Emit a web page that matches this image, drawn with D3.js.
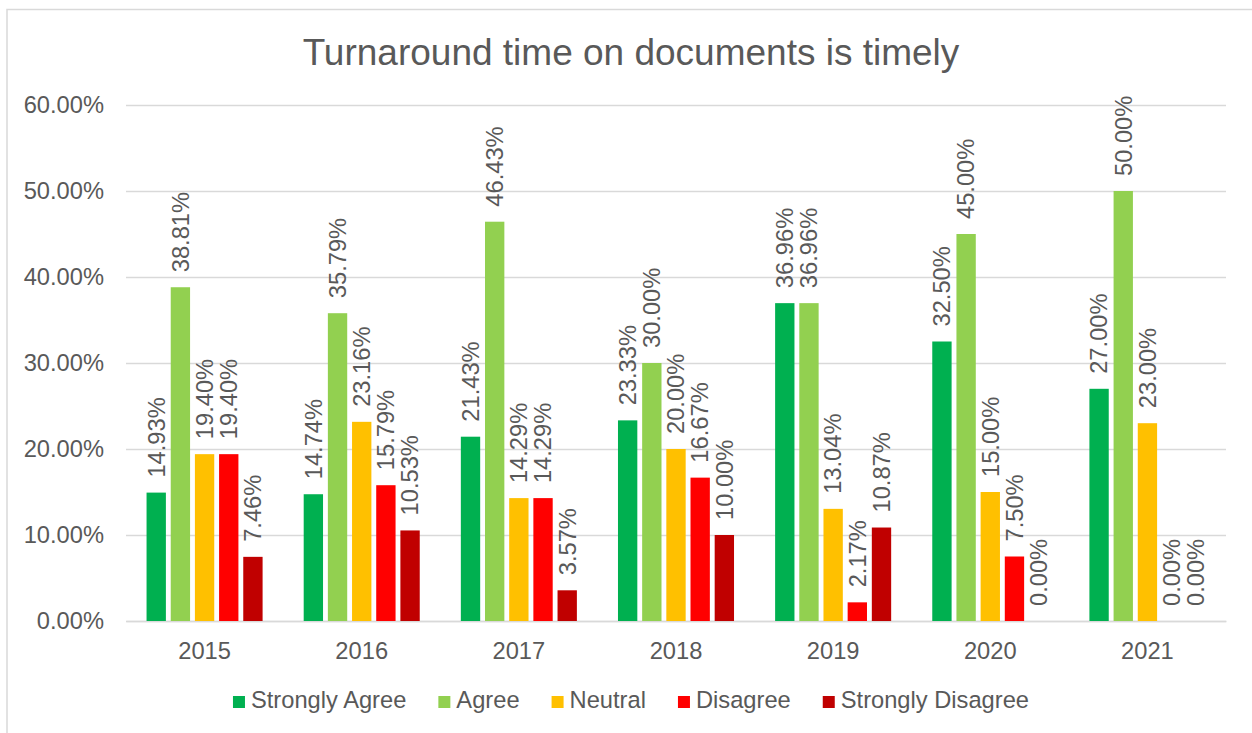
<!DOCTYPE html>
<html>
<head>
<meta charset="utf-8">
<script src="https://cdn.jsdelivr.net/npm/d3@7"></script>
<style>
  html, body { margin: 0; padding: 0; background: #fff; }
  svg { display: block; font-family: "Liberation Sans", Arial, sans-serif; }
</style>
</head>
<body>
<svg id="chart" width="1252" height="733"></svg>
<script>
const title = "Turnaround time on documents is timely";
const years = ["2015", "2016", "2017", "2018", "2019", "2020", "2021"];
const seriesNames = ["Strongly Agree", "Agree", "Neutral", "Disagree", "Strongly Disagree"];
const seriesColors = ["#00B050", "#92D050", "#FFC000", "#FF0000", "#C00000"];
const stronglyAgree = [14.93, 14.74, 21.43, 23.33, 36.96, 32.50, 27.00];
const agree = [38.81, 35.79, 46.43, 30.00, 36.96, 45.00, 50.00];
const neutral = [19.40, 23.16, 14.29, 20.00, 13.04, 15.00, 23.00];
const disagree = [19.40, 15.79, 14.29, 16.67, 2.17, 7.50, 0.00];
const stronglyDisagree = [7.46, 10.53, 3.57, 10.00, 10.87, 0.00, 0.00];
const yTicks = [0, 10, 20, 30, 40, 50, 60];

const seriesValues = [stronglyAgree, agree, neutral, disagree, stronglyDisagree];
const textColor = "#595959";
const gridColor = "#d9d9d9";
const fs = 23.7;

const svg = d3.select("#chart");

// outer border
svg.append("rect").attr("x", 7).attr("y", 9.5).attr("width", 1300).attr("height", 800)
  .attr("fill", "none").attr("stroke", gridColor).attr("stroke-width", 1.5);

const plot = { left: 126, right: 1226, top: 105, bottom: 621 };

const x0 = d3.scaleBand().domain(years).range([plot.left, plot.right]).paddingInner(0).paddingOuter(0);
const x1 = d3.scaleBand().domain(seriesNames).range([0, x0.bandwidth()]).paddingInner(0.2).paddingOuter(0.85);
const y = d3.scaleLinear().domain([0, 60]).range([plot.bottom, plot.top]);

// title
svg.append("text").attr("x", 631).attr("y", 65).attr("text-anchor", "middle")
  .attr("fill", textColor).style("font-size", "37px").text(title);

// gridlines
const yAxis = d3.axisLeft(y).tickValues(yTicks).tickSize(-(plot.right - plot.left)).tickPadding(22)
  .tickFormat(d => d.toFixed(2) + "%");
const gy = svg.append("g").attr("transform", `translate(${plot.left},0)`).call(yAxis);
gy.select(".domain").remove();
gy.selectAll(".tick line").attr("stroke", gridColor).attr("stroke-width", 1.5);
gy.selectAll(".tick text").attr("fill", textColor).style("font-size", fs + "px")
  .attr("font-family", "Liberation Sans, Arial, sans-serif");

// x axis
const xAxis = d3.axisBottom(x0).tickSize(0).tickPadding(21);
const gx = svg.append("g").attr("transform", `translate(0,${plot.bottom})`).call(xAxis);
gx.select(".domain").attr("stroke", gridColor).attr("stroke-width", 1.5);
gx.selectAll(".tick text").attr("fill", textColor).style("font-size", fs + "px")
  .attr("font-family", "Liberation Sans, Arial, sans-serif");

// bars
const data = [];
years.forEach((yr, i) => {
  seriesNames.forEach((s, j) => {
    data.push({ year: yr, series: s, value: seriesValues[j][i], color: seriesColors[j] });
  });
});

svg.append("g").selectAll("rect").data(data).join("rect")
  .attr("x", d => x0(d.year) + x1(d.series))
  .attr("y", d => y(d.value))
  .attr("width", x1.bandwidth())
  .attr("height", d => y(0) - y(d.value))
  .attr("fill", d => d.color);

// data labels
svg.append("g").selectAll("text").data(data).join("text")
  .attr("transform", d => {
    const cx = x0(d.year) + x1(d.series) + x1.bandwidth() / 2;
    const ty = y(d.value) - 15;
    return `translate(${cx},${ty}) rotate(-90)`;
  })
  .attr("dy", "0.35em")
  .attr("text-anchor", "start")
  .attr("fill", textColor)
  .style("font-size", fs + "px")
  .text(d => d.value.toFixed(2) + "%");

// legend
const legend = svg.append("g");
const items = legend.selectAll("g").data(seriesNames).join("g");
items.append("rect").attr("width", 12).attr("height", 12).attr("y", -12)
  .attr("fill", (d, i) => seriesColors[i]);
items.append("text").attr("x", 18).attr("y", 0).attr("fill", textColor)
  .style("font-size", fs + "px").text(d => d);
const widths = [];
items.each(function () { widths.push(this.getBBox().width); });
const gap = 32;
const total = d3.sum(widths) + gap * (widths.length - 1);
let cur = 631 - total / 2;
items.attr("transform", (d, i) => {
  const t = `translate(${cur},708)`;
  cur += widths[i] + gap;
  return t;
});
</script>
</body>
</html>
